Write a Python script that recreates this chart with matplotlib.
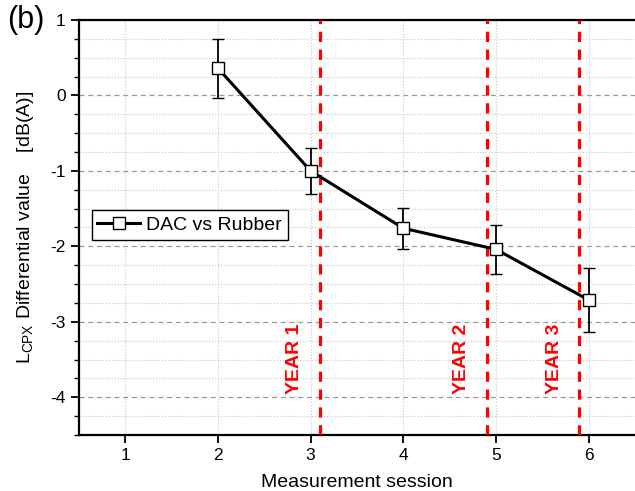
import matplotlib
matplotlib.use("Agg")
import matplotlib.pyplot as plt
from matplotlib.ticker import MultipleLocator
from matplotlib.lines import Line2D

plt.rcParams['font.family'] = ['Liberation Sans', 'DejaVu Sans']
plt.rcParams['axes.unicode_minus'] = False

session = [2, 3, 4, 5, 6]
diff_value = [0.36, -1.00, -1.76, -2.04, -2.71]
diff_err = [0.39, 0.30, 0.27, 0.32, 0.42]
year_pos = [3.1, 4.9, 5.9]
year_text = ['YEAR 1', 'YEAR 2', 'YEAR 3']

fig = plt.figure(figsize=(6.35, 4.91), dpi=100)
ax = fig.add_axes([79/635, 56/491, 1 - 79/635, 415/491])

ax.errorbar(session, diff_value, yerr=diff_err, color='black', lw=2.2,
            marker='s', ms=9, mfc='white', mec='black', mew=1.0,
            ecolor='black', elinewidth=1.3, capsize=4, capthick=1.3,
            zorder=5)

for xp, txt in zip(year_pos, year_text):
    ax.axvline(xp, color='red', ls=(0, (3.2, 2.4)), lw=2.3, zorder=4)
    ax.text(xp - 0.27, -3.96, txt, color='red', fontsize=14, fontweight='bold',
            rotation=90, ha='center', va='bottom')

ax.set_xlim(0.5, 6.5)
ax.set_ylim(-4.5, 1)
ax.set_xticks([1, 2, 3, 4, 5, 6])
ax.set_yticks([1, 0, -1, -2, -3, -4])
ax.yaxis.set_minor_locator(MultipleLocator(0.25))
ax.tick_params(axis='both', which='major', labelsize=12.5, width=1.3, length=6, direction='out')
ax.tick_params(axis='y', which='minor', width=1.0, length=3.5, direction='out')

ax.grid(axis='y', which='major', color='#999999', ls=(0, (4, 3)), lw=0.9)
ax.grid(axis='y', which='minor', color='#c8c8c8', ls=':', lw=0.8)
ax.grid(axis='x', which='major', color='#c8c8c8', ls=':', lw=0.8)
ax.set_axisbelow(True)

for s in ['left', 'bottom', 'top']:
    ax.spines[s].set_linewidth(1.6)
ax.spines['right'].set_visible(False)

ax.set_xlabel('Measurement session', fontsize=14, labelpad=8)
ax.set_ylabel(r'L$_{\mathregular{CPX}}$ Differential value    [dB(A)]', fontsize=14, labelpad=10)

handle = Line2D([], [], color='black', lw=2.2, marker='s', ms=9, mfc='white',
                mec='black', mew=1.0)
leg = ax.legend([handle], ['DAC vs Rubber'], loc='upper left',
                bbox_to_anchor=(0.005, 0.565), fontsize=14,
                frameon=True, fancybox=False, edgecolor='black', borderpad=0.3,
                handlelength=2.2, handletextpad=0.3, framealpha=1)
leg.get_frame().set_linewidth(1.0)

fig.text(0.012, 0.99, '(b)', fontsize=22, va='top', ha='left')

fig.savefig('out.png', dpi=100)
